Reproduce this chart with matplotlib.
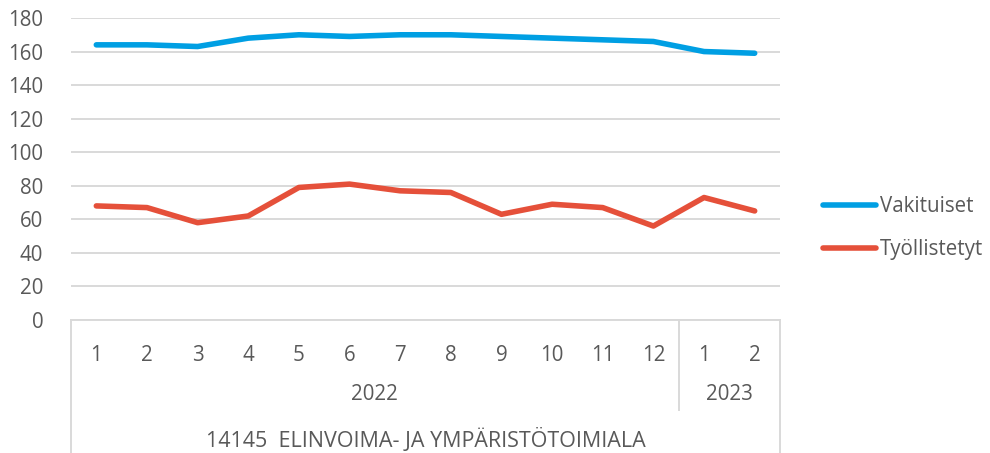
import numpy as np
import matplotlib
matplotlib.use("Agg")
from matplotlib import pyplot as plt
from matplotlib.lines import Line2D
from matplotlib.transforms import blended_transform_factory

months = ['1', '2', '3', '4', '5', '6', '7', '8', '9', '10', '11', '12', '1', '2']
years = ['2022', '2023']
year_counts = [12, 2]
group_label = '14145  ELINVOIMA- JA YMPÄRISTÖTOIMIALA'
vakituiset = [164, 164, 163, 168, 170, 169, 170, 170, 169, 168, 167, 166, 160, 159]
tyollistetyt = [68, 67, 58, 62, 79, 81, 77, 76, 63, 69, 67, 56, 73, 65]

txt = '#595959'
grid = '#d9d9d9'
plt.rcParams['font.family'] = ['Open Sans', 'DejaVu Sans']
fs = 14.8

fig = plt.figure(figsize=(9.9, 4.53), dpi=100)
ax = fig.add_axes([71/990, 1-320/453, (780-71)/990, (320-18)/453])

x = np.arange(len(months))
ax.plot(x, vakituiset, color='#009fe3', lw=4.0, solid_capstyle='round', solid_joinstyle='round', label='Vakituiset')
ax.plot(x, tyollistetyt, color='#e5503a', lw=4.0, solid_capstyle='round', solid_joinstyle='round', label='Työllistetyt')

ax.set_xlim(-0.5, len(months)-0.5)
ax.set_ylim(0, 180)
ax.set_yticks(np.arange(0, 181, 20))
ax.yaxis.grid(True, color=grid, lw=1.4)
ax.set_axisbelow(True)
for s in ax.spines.values():
    s.set_visible(False)
ax.tick_params(axis='y', length=0, pad=20, labelsize=fs, labelcolor=txt)
ax.set_xticks(x)
ax.set_xticklabels(months)
ax.tick_params(axis='x', length=0, pad=18, labelsize=fs, labelcolor=txt)

# category axis frame lines
tr = blended_transform_factory(ax.transData, fig.transFigure)
y_top = 1-320/453
y_year_bot = 1-410/453
edges = np.concatenate([[0], np.cumsum(year_counts)]) - 0.5
ax.add_line(Line2D([edges[0], edges[0]], [y_top, 0], transform=tr, color=grid, lw=1.4, clip_on=False))
ax.add_line(Line2D([edges[-1], edges[-1]], [y_top, 0], transform=tr, color=grid, lw=1.4, clip_on=False))
for e in edges[1:-1]:
    ax.add_line(Line2D([e, e], [y_top, y_year_bot], transform=tr, color=grid, lw=1.4, clip_on=False))
ax.add_line(Line2D([edges[0], edges[-1]], [y_top, y_top], transform=tr, color=grid, lw=1.4, clip_on=False))

for i, yr in enumerate(years):
    ax.text((edges[i]+edges[i+1])/2, 1-395/453, yr, transform=tr, ha='center', va='center',
            fontsize=fs, color=txt)
ax.text((edges[0]+edges[-1])/2, 1-440/453, group_label, transform=tr, ha='center', va='center',
        fontsize=15.5, color=txt)

fig.legend(loc='center left', bbox_to_anchor=(804/990, 1-228/453), frameon=False,
           fontsize=fs, labelcolor=txt, handlelength=2.6, handletextpad=0.2, labelspacing=1.05)

fig.savefig('out.png', dpi=100)
